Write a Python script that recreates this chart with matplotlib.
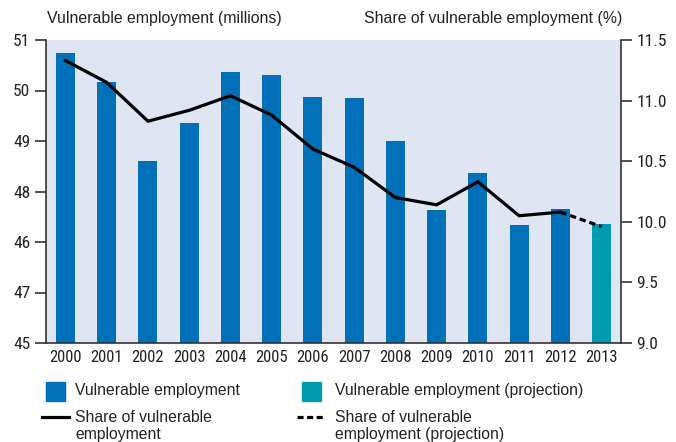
import matplotlib
matplotlib.use("Agg")
import matplotlib.pyplot as plt
from matplotlib.patches import Rectangle
from matplotlib.lines import Line2D
from matplotlib import font_manager as fm

years = ["2000", "2001", "2002", "2003", "2004", "2005", "2006", "2007",
         "2008", "2009", "2010", "2011", "2012", "2013"]
vuln_emp = [50.74, 50.17, 48.60, 49.36, 50.37, 50.31, 49.87, 49.85,
            49.00, 47.63, 48.37, 47.34, 47.65, 47.36]
share = [11.33, 11.15, 10.83, 10.92, 11.04, 10.88, 10.60, 10.45,
         10.20, 10.14, 10.33, 10.05, 10.08, 9.96]
projection_from = 13  # index of first projected year
left_ticks = [45, 46, 47, 48, 49, 50, 51]
left_tick_labels = ["45", "47", "46", "48", "49", "50", "51"]
right_ticks = [9.0, 9.5, 10.0, 10.5, 11.0, 11.5]
right_tick_labels = ["9.0", "9.5", "10.0", "10.5", "11.0", "11.5"]

names = {f.name for f in fm.fontManager.ttflist}
narrow = "DejaVu Sans"
for cand in ["Roboto Condensed", "Fira Sans Condensed", "PT Sans Narrow", "Archivo Narrow",
             "IBM Plex Sans Condensed", "Open Sans Condensed", "Barlow Semi Condensed",
             "Encode Sans Condensed", "Asap Condensed", "Liberation Sans Narrow"]:
    if cand in names:
        narrow = cand
        break
textfont = "Liberation Sans"
for cand in ["Frutiger", "Hind", "Liberation Sans"]:
    if cand in names:
        textfont = cand
        break
textfont = "Liberation Sans"

BLUE = "#0070B8"
TEAL = "#009AAE"
BG = "#DFE5F2"
SPINE = "#333333"
TXT = "#222222"

W, H = 676, 442
def fx(px):
    return px / W
def fy(py):
    return 1 - py / H

fig = plt.figure(figsize=(6.76, 4.42), dpi=100)
ax = fig.add_axes([fx(45.7), fy(343), (621 - 45.7) / W, (343 - 40) / H])
ax.set_facecolor(BG)
x = list(range(len(years)))
colors = [BLUE if i < projection_from else TEAL for i in x]
ax.bar(x, [v - 45 for v in vuln_emp], bottom=45, width=0.46, color=colors, zorder=2)
ax.set_ylim(45, 51)
ax.set_xlim(-0.48, len(years) - 1 + 0.47)
ax.set_yticks(left_ticks)
ax.set_yticklabels(left_tick_labels, fontfamily=narrow, fontsize=12.5, color=TXT)
ax.set_xticks(x)
ax.set_xticklabels(years, fontfamily=narrow, fontsize=12, color=TXT)
ax.tick_params(axis="x", length=0, pad=5)
ax.tick_params(axis="y", length=8, width=1.2, color=SPINE, pad=3)
for s in ["top", "right"]:
    ax.spines[s].set_visible(False)
for s in ["left", "bottom"]:
    ax.spines[s].set_color(SPINE)
    ax.spines[s].set_linewidth(1.2)

ax2 = ax.twinx()
ax2.set_ylim(9.0, 11.5)
ax2.plot(x[:projection_from], share[:projection_from], color="black", lw=2.3,
         solid_joinstyle="miter", zorder=3)
ax2.plot(x[projection_from - 1:], share[projection_from - 1:], color="black", lw=2.3,
         dashes=(2.0, 1.2), zorder=3)
ax2.set_yticks(right_ticks)
ax2.set_yticklabels(right_tick_labels, fontfamily=narrow, fontsize=12.5, color=TXT)
ax2.tick_params(axis="y", length=8, width=1.2, color=SPINE, pad=3)
for s in ["top", "left", "bottom"]:
    ax2.spines[s].set_visible(False)
ax2.spines["right"].set_color(SPINE)
ax2.spines["right"].set_linewidth(1.2)

fig.text(fx(47), fy(18), "Vulnerable employment (millions)", fontfamily=textfont,
         fontsize=11.4, va="center", ha="left", color=TXT)
fig.text(fx(622), fy(18), "Share of vulnerable employment (%)", fontfamily=textfont,
         fontsize=11.4, va="center", ha="right", color=TXT)

fig.add_artist(Rectangle((fx(46), fy(401)), 19 / W, 19 / H, transform=fig.transFigure,
                         color=BLUE))
fig.add_artist(Rectangle((fx(302), fy(401)), 19 / W, 19 / H, transform=fig.transFigure,
                         color=TEAL))
fig.add_artist(Line2D([fx(42), fx(69)], [fy(417), fy(417)], transform=fig.transFigure,
                      color="black", lw=2.3))
fig.add_artist(Line2D([fx(297), fx(324)], [fy(417), fy(417)], transform=fig.transFigure,
                      color="black", lw=2.3, dashes=(1.9, 1.1)))
kw = dict(fontfamily=textfont, fontsize=11.3, va="center", ha="left", color=TXT)
fig.text(fx(75), fy(391), "Vulnerable employment", **kw)
fig.text(fx(335), fy(391), "Vulnerable employment (projection)", **kw)
fig.text(fx(75), fy(417), "Share of vulnerable", **kw)
fig.text(fx(75), fy(434), "employment", **kw)
fig.text(fx(335), fy(417), "Share of vulnerable", **kw)
fig.text(fx(335), fy(434), "employment (projection)", **kw)

fig.savefig("out.png", dpi=100)
